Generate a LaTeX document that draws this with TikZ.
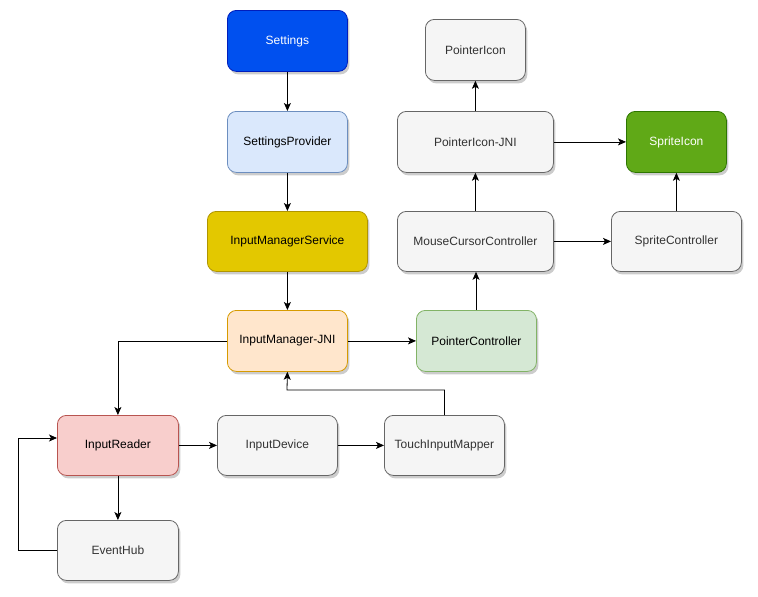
\documentclass[tikz,border=0pt]{standalone}
\usepackage{fontspec}
\setmainfont{Liberation Sans}
\usetikzlibrary{arrows.meta,shadows}
\definecolor{grayfill}{HTML}{F5F5F5}
\definecolor{graydraw}{HTML}{666666}
\definecolor{graytext}{HTML}{333333}
\definecolor{bluefill}{HTML}{0050EF}
\definecolor{bluedraw}{HTML}{001DBC}
\definecolor{lbluefill}{HTML}{DAE8FC}
\definecolor{lbluedraw}{HTML}{6C8EBF}
\definecolor{yelfill}{HTML}{E3C800}
\definecolor{yeldraw}{HTML}{B09500}
\definecolor{orfill}{HTML}{FFE6CC}
\definecolor{ordraw}{HTML}{D79B00}
\definecolor{grfill}{HTML}{D5E8D4}
\definecolor{grdraw}{HTML}{82B366}
\definecolor{dgrfill}{HTML}{60A917}
\definecolor{dgrdraw}{HTML}{2D7600}
\definecolor{redfill}{HTML}{F8CECC}
\definecolor{reddraw}{HTML}{B85450}
\tikzset{
  box/.style={draw, rounded corners=9pt, line width=0.8pt, font=\fontsize{12}{14}\selectfont,
    inner sep=0pt, anchor=north west,
    drop shadow={shadow xshift=2pt, shadow yshift=-3pt, fill=black, opacity=0.2}},
  graybox/.style={box, fill=grayfill, draw=graydraw, text=graytext},
  arr/.style={-{Stealth[length=8pt,width=7pt,inset=2pt]}, line width=0.8pt, black},
  ln/.style={line width=0.8pt, black}
}
\begin{document}
\begin{tikzpicture}[x=1pt,y=-1pt]
\useasboundingbox (0,0) rectangle (758,597);
\node[box, fill=bluefill, draw=bluedraw, text=white, minimum width=120pt, minimum height=61pt] (settings) at (227,10) {Settings};
\node[box, fill=lbluefill, draw=lbluedraw, text=black, minimum width=120pt, minimum height=61pt] (sprov) at (227,111) {SettingsProvider};
\node[box, fill=yelfill, draw=yeldraw, text=black, minimum width=160pt, minimum height=60pt] (ims) at (207,211) {InputManagerService};
\node[box, fill=orfill, draw=ordraw, text=black, minimum width=120pt, minimum height=61pt] (imjni) at (227,310) {InputManager-JNI};
\node[box, fill=grfill, draw=grdraw, text=black, minimum width=120pt, minimum height=61pt] (pc) at (416,310) {PointerController};
\node[graybox, minimum width=156pt, minimum height=60pt] (mcc) at (397,211) {MouseCursorController};
\node[graybox, minimum width=130pt, minimum height=60pt] (sc) at (611,211) {SpriteController};
\node[graybox, minimum width=156pt, minimum height=61pt] (pijni) at (397,111) {PointerIcon-JNI};
\node[box, fill=dgrfill, draw=dgrdraw, text=white, minimum width=100pt, minimum height=61pt] (si) at (626,111) {SpriteIcon};
\node[graybox, minimum width=100pt, minimum height=61pt] (pi) at (425,19) {PointerIcon};
\node[box, fill=redfill, draw=reddraw, text=black, minimum width=121pt, minimum height=60pt] (ir) at (57,415) {InputReader};
\node[graybox, minimum width=120pt, minimum height=60pt] (idev) at (217,415) {InputDevice};
\node[graybox, minimum width=120pt, minimum height=60pt] (tim) at (384,415) {TouchInputMapper};
\node[graybox, minimum width=121pt, minimum height=60pt] (eh) at (57,520) {EventHub};

\coordinate (c2) at (444,390);
\coordinate (c3) at (287,390);
\coordinate (c4) at (18,550);
\coordinate (c5) at (18,438);

\draw[arr] (settings.south) -- (sprov.north);
\draw[arr] (sprov.south) -- (ims.north);
\draw[arr] (ims.south) -- (imjni.north);
\draw[arr] (imjni.east) -- (pc.west);
\draw[arr] (imjni.west) -- (imjni.west -| ir.north) -- (ir.north);
\draw[arr] (pc.north -| 476,0) -- (mcc.south -| 476,0);
\draw[arr] (mcc.north) -- (pijni.south);
\draw[arr] (pijni.north) -- (pi.south -| pijni.north);
\draw[arr] (pijni.east) -- (si.west);
\draw[arr] (mcc.east) -- (sc.west);
\draw[arr] (sc.north) -- (si.south);
\draw[arr] (ir.east) -- (idev.west);
\draw[arr] (idev.east) -- (tim.west);
\draw[arr] (tim.north) -- (tim.north |- c2) -- (c3) -- (imjni.south);
\draw[arr] (ir.south) -- (eh.north);
\draw[arr] (eh.west) -- (eh.west -| c4) -- (c5) -- (ir.west |- c5);
\end{tikzpicture}
\end{document}
